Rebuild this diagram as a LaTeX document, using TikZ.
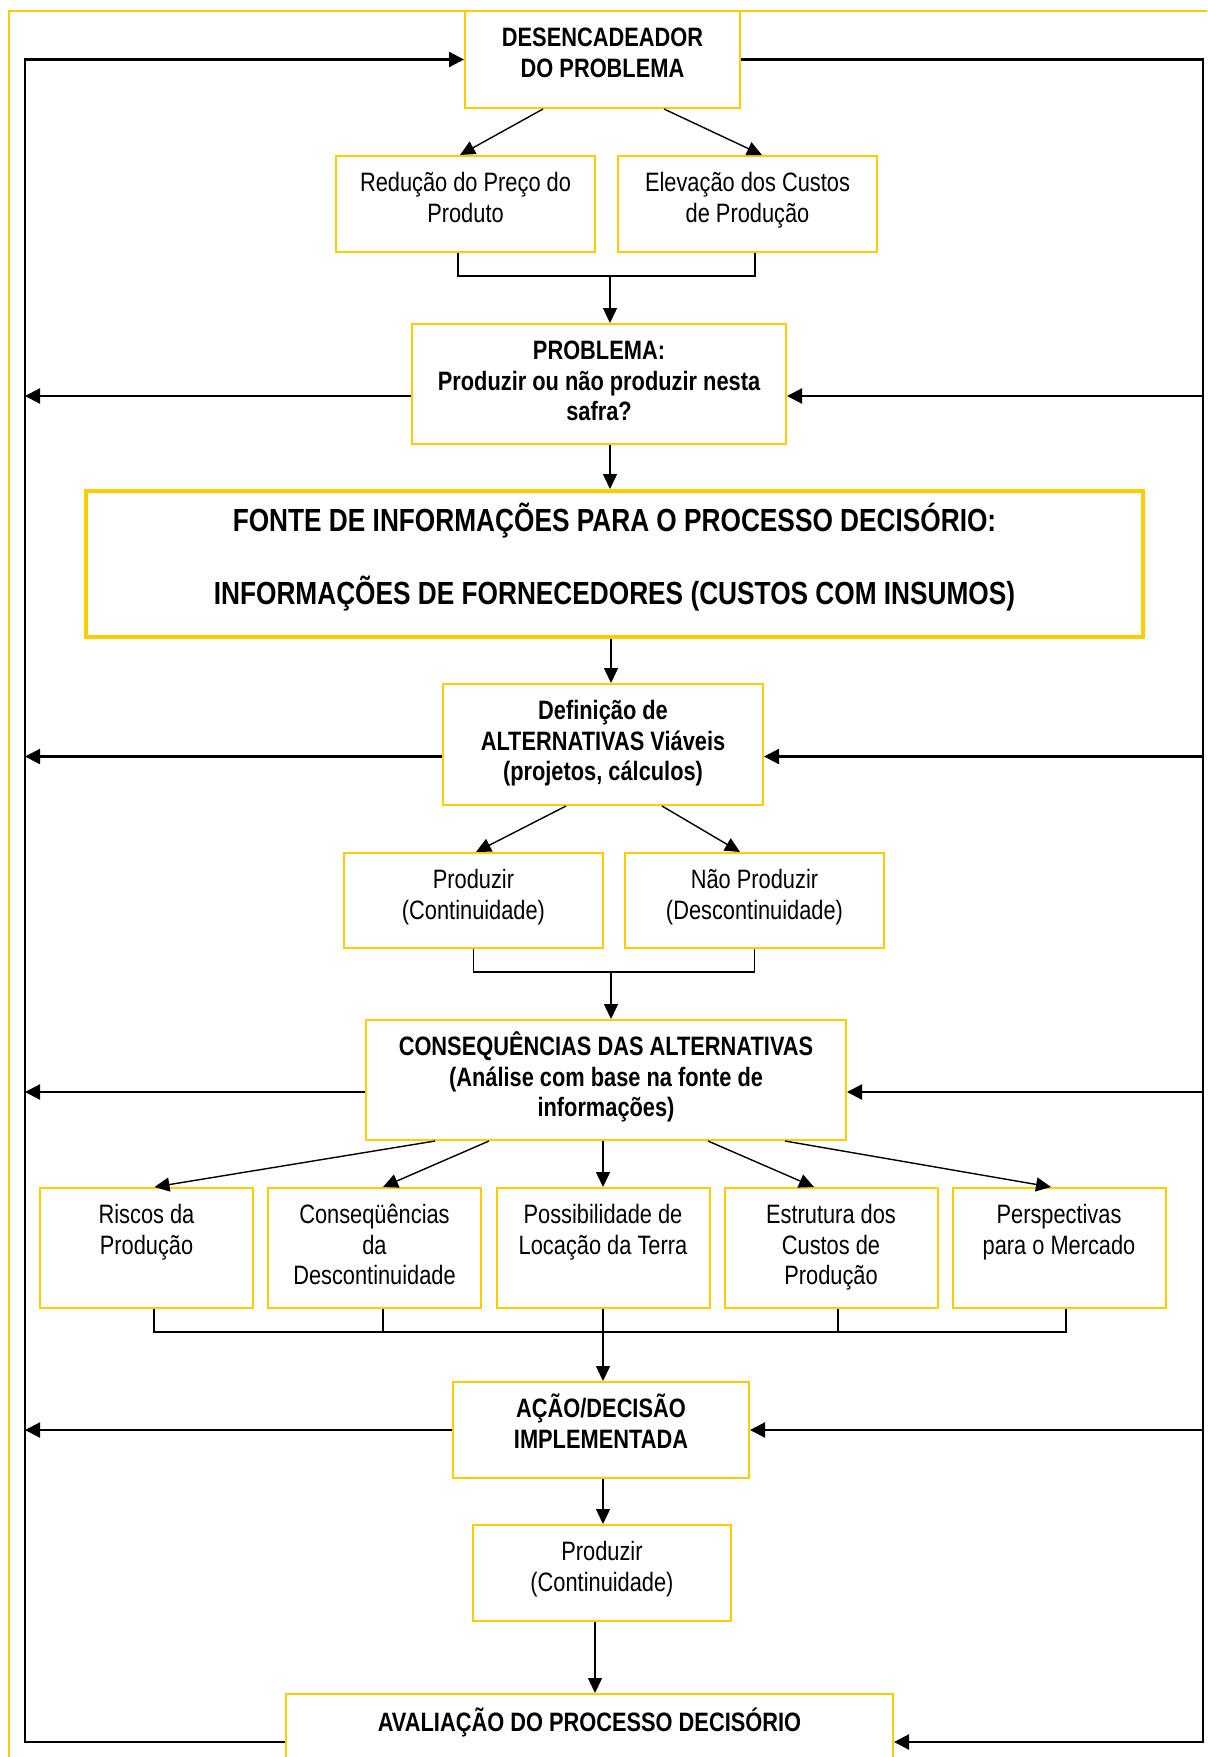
\documentclass[tikz,border=0pt]{standalone}
\usepackage{fontspec}
\setmainfont[FakeStretch=0.82]{Liberation Sans}
\usetikzlibrary{arrows.meta,calc}
\definecolor{boxyellow}{RGB}{255,204,0}
\begin{document}
\begin{tikzpicture}[x=0.5pt,y=-0.5pt,
  box/.style={draw=boxyellow, line width=1pt, inner sep=0pt},
  lbl/.style={anchor=north, inner sep=0pt, align=center, font=\fontsize{13.3}{15.3}\selectfont},
  lblb/.style={anchor=north, inner sep=0pt, align=center, font=\bfseries\fontsize{13.3}{15.3}\selectfont},
  arr/.style={line width=0.7pt, -{Triangle[length=7.5pt,width=7pt]}},
  con/.style={line width=0.7pt},
  loopl/.style={line width=1pt},
  loopa/.style={line width=1.1pt, -{Triangle[length=7.5pt,width=7.5pt]}},
]
\useasboundingbox (0,0) rectangle (1207,1757);
\clip (0,0) rectangle (1207,1757);
\fill[white] (0,0) rectangle (1207,1757);
% outer frame
\draw[boxyellow, line width=1pt] (9,11) rectangle (1240,1800);

% boxes
\node[box, minimum width=137.5pt, minimum height=48.5pt] (b1) at (602.5,59.5) {};
\node[box, minimum width=129.5pt, minimum height=48pt] (b2) at (465.5,204) {};
\node[box, minimum width=129.5pt, minimum height=48pt] (b3) at (747.5,204) {};
\node[box, minimum width=187pt, minimum height=60pt] (b4) at (599,384) {};
\node[box, line width=2pt, minimum width=528.5pt, minimum height=73pt] (b5) at (614.5,564) {};
\node[box, minimum width=160pt, minimum height=60.5pt] (b6) at (603,744.5) {};
\node[box, minimum width=129.5pt, minimum height=47.5pt] (b7) at (473.5,900.5) {};
\node[box, minimum width=129.5pt, minimum height=47.5pt] (b8) at (754.5,900.5) {};
\node[box, minimum width=240pt, minimum height=60pt] (b9) at (606,1080) {};
\node[box, minimum width=106.5pt, minimum height=60pt] (c1) at (146.5,1248) {};
\node[box, minimum width=106.5pt, minimum height=60pt] (c2) at (374.5,1248) {};
\node[box, minimum width=106.5pt, minimum height=60pt] (c3) at (603,1248) {};
\node[box, minimum width=106.5pt, minimum height=60pt] (c4) at (831,1248) {};
\node[box, minimum width=106.5pt, minimum height=60pt] (c5) at (1059,1248) {};
\node[box, minimum width=148pt, minimum height=48pt] (b10) at (601,1430) {};
\node[box, minimum width=129pt, minimum height=48pt] (b11) at (602,1573) {};
\node[box, minimum width=303.5pt, minimum height=48pt] (b12) at (589.5,1742) {};

% texts
\node[lblb] (t1) at ([yshift=-3pt]b1.north) {\rule{0pt}{15pt}DESENCADEADOR\\DO PROBLEMA};
\node[lbl] (t2) at ([yshift=-3pt]b2.north) {\rule{0pt}{15pt}Redução do Preço do\\Produto};
\node[lbl] (t3) at ([yshift=-3pt]b3.north) {\rule{0pt}{15pt}Elevação dos Custos\\de Produção};
\node[lblb] (t4) at ([yshift=-3pt]b4.north) {\rule{0pt}{15pt}PROBLEMA:\\Produzir ou não produzir nesta\\safra?};
\node[anchor=north, inner sep=0pt, align=center, font=\bfseries\fontsize{16}{36.5}\selectfont] (t5) at ([yshift=-6pt]b5.north) {\rule{0pt}{15pt}FONTE DE INFORMAÇÕES PARA O PROCESSO DECISÓRIO:\\INFORMAÇÕES DE FORNECEDORES (CUSTOS COM INSUMOS)};
\node[lblb] (t6) at ([yshift=-3pt]b6.north) {\rule{0pt}{15pt}Definição de\\ALTERNATIVAS Viáveis\\(projetos, cálculos)};
\node[lbl] (t7) at ([yshift=-3pt]b7.north) {\rule{0pt}{15pt}Produzir\\(Continuidade)};
\node[lbl] (t8) at ([yshift=-3pt]b8.north) {\rule{0pt}{15pt}Não Produzir\\(Descontinuidade)};
\node[lblb] (t9) at ([yshift=-3pt]b9.north) {\rule{0pt}{15pt}CONSEQUÊNCIAS DAS ALTERNATIVAS\\(Análise com base na fonte de\\informações)};
\node[lbl] (tc1) at ([yshift=-3pt]c1.north) {\rule{0pt}{15pt}Riscos da\\Produção};
\node[lbl] (tc2) at ([yshift=-3pt]c2.north) {\rule{0pt}{15pt}Conseqüências\\da\\Descontinuidade};
\node[lbl] (tc3) at ([yshift=-3pt]c3.north) {\rule{0pt}{15pt}Possibilidade de\\Locação da Terra};
\node[lbl] (tc4) at ([yshift=-3pt]c4.north) {\rule{0pt}{15pt}Estrutura dos\\Custos de\\Produção};
\node[lbl] (tc5) at ([yshift=-3pt]c5.north) {\rule{0pt}{15pt}Perspectivas\\para o Mercado};
\node[lblb] (t10) at ([yshift=-3pt]b10.north) {\rule{0pt}{15pt}AÇÃO/DECISÃO\\IMPLEMENTADA};
\node[lbl] (t11) at ([yshift=-3pt]b11.north) {\rule{0pt}{15pt}Produzir\\(Continuidade)};
\node[lblb] (t12) at ([yshift=-4pt]b12.north) {\rule{0pt}{15pt}AVALIAÇÃO DO PROCESSO DECISÓRIO};

% junction coordinates
\coordinate (j1) at (610,276);
\coordinate (j2) at (611,972);
\coordinate (j3) at (603,1332);
\coordinate (xl) at (25,1742);
\coordinate (xr) at (1203,1742);

% top part
\draw[arr] ([xshift=-29.75pt]b1.south) -- ([xshift=-2.75pt]b2.north);
\draw[arr] ([xshift=30.75pt]b1.south) -- ([xshift=7.25pt]b3.north);
\draw[con] ([xshift=-3.75pt]b2.south) |- (j1) -| ([xshift=3.75pt]b3.south);
\draw[arr] (j1) -- (j1 |- b4.north);
\draw[arr] (j1 |- b4.south) -- (j1 |- b5.north);
\draw[arr] (j2 |- b5.south) -- (j2 |- b6.north);
\draw[arr] ([xshift=-18.5pt]b6.south) -- ([xshift=1.25pt]b7.north);
\draw[arr] ([xshift=29.5pt]b6.south) -- ([xshift=-7.25pt]b8.north);
\draw[con] (b7.south) |- (j2) -| (b8.south);
\draw[arr] (j2) -- (j2 |- b9.north);
% five consequences
\draw[arr] ([xshift=-85.5pt]b9.south) -- ([xshift=4pt]c1.north);
\draw[arr] ([xshift=-58.5pt]b9.south) -- ([xshift=4.25pt]c2.north);
\draw[arr] ([xshift=-1.5pt]b9.south) -- (c3.north);
\draw[arr] ([xshift=51pt]b9.south) -- ([xshift=-8.5pt]c4.north);
\draw[arr] ([xshift=89.5pt]b9.south) -- ([xshift=-4pt]c5.north);
\draw[con] ([xshift=3.75pt]c1.south) |- (j3);
\draw[con] ([xshift=4.25pt]c2.south) |- (j3);
\draw[con] ([xshift=3.5pt]c4.south) |- (j3);
\draw[con] ([xshift=3.5pt]c5.south) |- (j3);
\draw[con] (c3.south) -- (j3);
\draw[arr] (j3) -- (j3 |- b10.north);
\draw[arr] (j3 |- b10.south) -- (j3 |- b11.north);
\draw[arr] ([xshift=-3.5pt]b11.south) -- ([xshift=-3.5pt]b11.south |- b12.north);

% feedback loop
\draw[loopa] (b12.west) -| (xl |- b1.west) -- (b1.west);
\draw[loopa] (b1.east) -| (xr) -- (b12.east);
\foreach \b/\s in {b4/-6pt, b6/-6pt, b9/-6pt, b10/0pt} {
  \draw[loopa] ([yshift=\s]\b.west) -- ([yshift=\s]\b.west -| xl);
  \draw[loopa] ([yshift=\s]\b.east -| xr) -- ([yshift=\s]\b.east);
}
\end{tikzpicture}
\end{document}
